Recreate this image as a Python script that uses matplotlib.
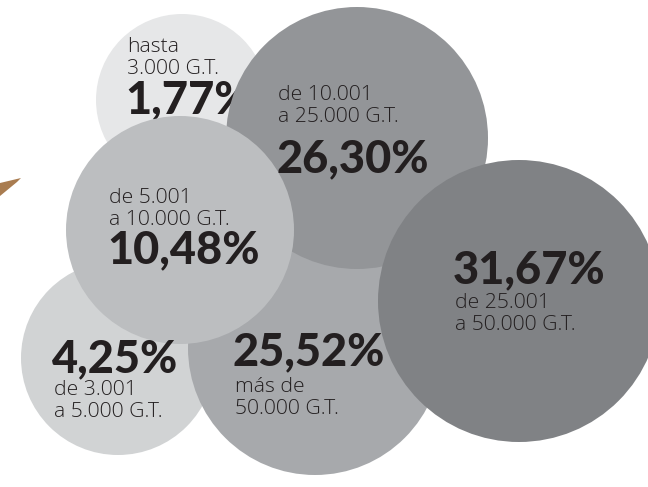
import matplotlib.pyplot as plt
from matplotlib.patches import Circle, Polygon

# ------------- DATA --------------
shares = ["1,77%", "26,30%", "10,48%", "4,25%", "25,52%", "31,67%"]
ranges = ["hasta\n3.000 G.T.",
          "de 10.001\na 25.000 G.T.",
          "de 5.001\na 10.000 G.T.",
          "de 3.001\na 5.000 G.T.",
          "más de\n50.000 G.T.",
          "de 25.001\na 50.000 G.T."]

# ------------- LAYOUT (pixels) --------------
centers = [(182, 100), (357, 138), (180, 230), (118, 358), (315, 348), (519, 301)]
radii = [86, 131, 114, 97, 127, 141]
colors = ["#e6e7e8", "#939598", "#bcbec0", "#d1d3d4", "#a7a9ac", "#808285"]
# (x, baseline of big number, baseline of first label line)
text_pos = [(125, 113, 52),
            (276, 172, 100),
            (107, 263, 203),
            (52, 372, 395),
            (233, 365, 392),
            (453, 283, 308)]
draw_order = [0, 3, 4, 1, 2, 5]

ink = "#231f20"
light = dict(family=["Open Sans", "DejaVu Sans"], weight="light", fontsize=15.2, color=ink)
heavy = dict(family=["Lato", "DejaVu Sans"], weight="black", fontsize=32.5, color=ink)

fig = plt.figure(figsize=(6.48, 4.87), dpi=100)
ax = fig.add_axes([0, 0, 1, 1])
ax.set_xlim(0, 648)
ax.set_ylim(487, 0)
ax.set_aspect("equal")
ax.axis("off")

# brown wedge on the left edge
ax.add_patch(Polygon([(0, 183), (21, 178), (17, 182), (0, 196)], closed=True,
                     facecolor="#a97c50", edgecolor="none", zorder=0))


def put_text(i, z):
    x, ybig, ylab = text_pos[i]
    ax.text(x, ybig, shares[i], va="baseline", ha="left", zorder=z, **heavy)
    for k, line in enumerate(ranges[i].split("\n")):
        ax.text(x + 2, ylab + k * 22, line, va="baseline", ha="left", zorder=z, **light)


for z, i in enumerate(draw_order):
    ax.add_patch(Circle(centers[i], radii[i], facecolor=colors[i],
                        edgecolor="none", zorder=2 * z + 1))
    if i == 0:
        # first label sits under the neighbouring bubble
        put_text(0, 2 * z + 1.5)

for i in range(1, 6):
    put_text(i, 20)

fig.savefig("out.png", dpi=100)
